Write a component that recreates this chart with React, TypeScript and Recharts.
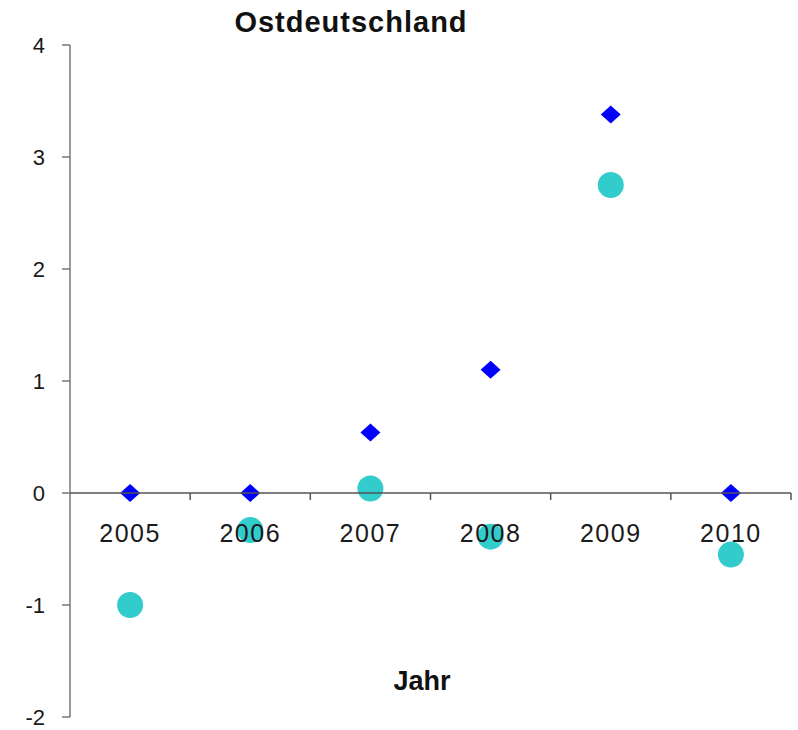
import React from 'react';
import { ComposedChart, Scatter, XAxis, YAxis } from 'recharts';

const years = ['2005', '2006', '2007', '2008', '2009', '2010'];
const diamondValues = [0, 0, 0.54, 1.1, 3.38, 0];
const circleValues = [-1.0, -0.33, 0.04, -0.39, 2.75, -0.55];
const yTicks = [-2, -1, 0, 1, 2, 3, 4];

const data = years.map((year, i) => ({
  year,
  diamond: diamondValues[i],
  circle: circleValues[i],
}));

const W = 798;
const H = 730;
const TOP = 45;
const BOTTOM = 12;
const X_AXIS_H = 1;
const LEFT = 70;
const RIGHT = 7;
const Y_MIN = -2;
const Y_MAX = 4;
const PLOT_H = H - TOP - BOTTOM - X_AXIS_H;
const PLOT_W = W - LEFT - RIGHT;
const ZERO_Y = TOP + (PLOT_H * Y_MAX) / (Y_MAX - Y_MIN);
const HALF_BAND = PLOT_W / years.length / 2;
const FONT = '"Liberation Sans", Arial, sans-serif';

const Diamond = (props: any) => {
  const { cx, cy } = props;
  if (cx == null || cy == null) return null;
  return (
    <path
      d={`M${cx},${cy - 9} L${cx + 10},${cy} L${cx},${cy + 9} L${cx - 10},${cy} Z`}
      fill="#0000FF"
    />
  );
};

const Dot = (props: any) => {
  const { cx, cy } = props;
  if (cx == null || cy == null) return null;
  return <circle cx={cx} cy={cy} r={13} fill="#33CCCC" />;
};

// the category axis crosses at y = 0: each tick draws its own band segment,
// the boundary tick on its right and the year label below the line
const YearTick = (props: any) => {
  const { x, payload } = props;
  return (
    <g>
      <line x1={x - HALF_BAND} y1={ZERO_Y} x2={x + HALF_BAND} y2={ZERO_Y} stroke="#555" strokeWidth={1.5} />
      <line x1={x + HALF_BAND} y1={ZERO_Y} x2={x + HALF_BAND} y2={ZERO_Y + 7} stroke="#555" strokeWidth={1.5} />
      <text
        x={x}
        y={542}
        textAnchor="middle"
        fontSize={25}
        letterSpacing={1.5}
        fill="#1a1a1a"
        fontFamily={FONT}
      >
        {payload.value}
      </text>
    </g>
  );
};

export default function App() {
  return (
    <div style={{ position: 'absolute', left: 0, top: 0, width: W, height: H, background: '#fff', fontFamily: FONT }}>
      <ComposedChart width={W} height={H} data={data} margin={{ top: TOP, right: RIGHT, bottom: BOTTOM, left: 0 }}>
        <YAxis
          type="number"
          domain={[Y_MIN, Y_MAX]}
          ticks={yTicks}
          width={LEFT}
          axisLine={{ stroke: '#777', strokeWidth: 1.5 }}
          tickLine={{ stroke: '#777', strokeWidth: 1.5 }}
          tickSize={8}
          tickMargin={17}
          tick={{ fontSize: 22, fill: '#1a1a1a', fontFamily: FONT }}
        />
        <XAxis
          dataKey="year"
          type="category"
          scale="band"
          height={X_AXIS_H}
          axisLine={false}
          tickLine={false}
          tick={YearTick}
          interval={0}
        />
        <Scatter dataKey="circle" shape={Dot} isAnimationActive={false} />
        <Scatter dataKey="diamond" shape={Diamond} isAnimationActive={false} />
      </ComposedChart>
      <div
        style={{
          position: 'absolute',
          left: 0,
          width: 702,
          top: 6,
          textAlign: 'center',
          fontSize: 29,
          fontWeight: 'bold',
          letterSpacing: 1,
          color: '#111',
        }}
      >
        Ostdeutschland
      </div>
      <div
        style={{
          position: 'absolute',
          left: 0,
          width: 844,
          top: 666,
          textAlign: 'center',
          fontSize: 27,
          fontWeight: 'bold',
          color: '#111',
        }}
      >
        Jahr
      </div>
    </div>
  );
}
